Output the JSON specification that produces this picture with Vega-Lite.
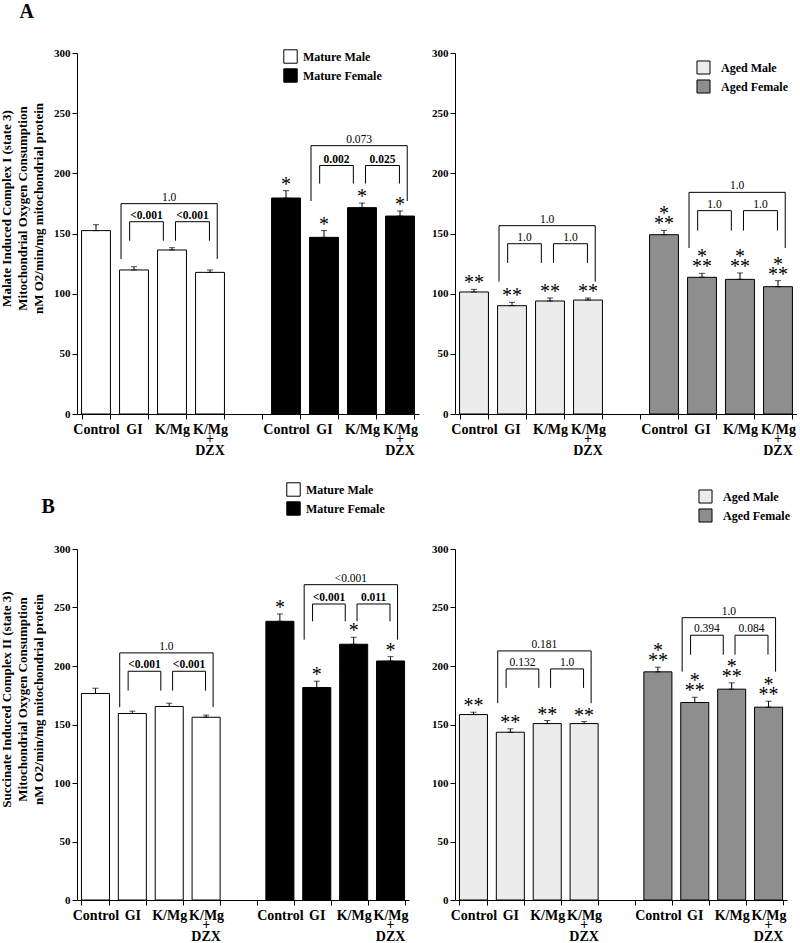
{
"$schema":"https://vega.github.io/schema/vega-lite/v6.json",
"background":"white",
"padding":{"left":0,"top":2,"right":0,"bottom":0},
"config":{"font":"Liberation Serif","view":{"stroke":null},"axis":{"domainColor":"black","tickColor":"black","labelColor":"black","titleColor":"black","grid":false},"legend":{"padding":0}},
"data":{"values":[
{"panel":"A1","kind":"bar","group":"Mature Male","slot":"M|Control","mean":152.4,"upper":157.3,"stars":""},
{"panel":"A1","kind":"bar","group":"Mature Male","slot":"M|GI","mean":119.7,"upper":122.4,"stars":""},
{"panel":"A1","kind":"bar","group":"Mature Male","slot":"M|K/Mg","mean":136.3,"upper":138.2,"stars":""},
{"panel":"A1","kind":"bar","group":"Mature Male","slot":"M|K/Mg+DZX","mean":117.7,"upper":119.7,"stars":""},
{"panel":"A1","kind":"bar","group":"Mature Female","slot":"F|Control","mean":179.5,"upper":185.6,"stars":"*"},
{"panel":"A1","kind":"bar","group":"Mature Female","slot":"F|GI","mean":146.8,"upper":152.4,"stars":"*"},
{"panel":"A1","kind":"bar","group":"Mature Female","slot":"F|K/Mg","mean":171.5,"upper":175.3,"stars":"*"},
{"panel":"A1","kind":"bar","group":"Mature Female","slot":"F|K/Mg+DZX","mean":164.5,"upper":168.7,"stars":"*"},
{"panel":"A2","kind":"bar","group":"Aged Male","slot":"M|Control","mean":101.4,"upper":103.6,"stars":"**"},
{"panel":"A2","kind":"bar","group":"Aged Male","slot":"M|GI","mean":90.0,"upper":92.8,"stars":"**"},
{"panel":"A2","kind":"bar","group":"Aged Male","slot":"M|K/Mg","mean":93.9,"upper":96.4,"stars":"**"},
{"panel":"A2","kind":"bar","group":"Aged Male","slot":"M|K/Mg+DZX","mean":94.7,"upper":96.4,"stars":"**"},
{"panel":"A2","kind":"bar","group":"Aged Female","slot":"F|Control","mean":149.0,"upper":152.6,"stars":"**","star2":"*"},
{"panel":"A2","kind":"bar","group":"Aged Female","slot":"F|GI","mean":113.6,"upper":116.9,"stars":"**","star2":"*"},
{"panel":"A2","kind":"bar","group":"Aged Female","slot":"F|K/Mg","mean":111.9,"upper":117.2,"stars":"**","star2":"*"},
{"panel":"A2","kind":"bar","group":"Aged Female","slot":"F|K/Mg+DZX","mean":105.8,"upper":110.8,"stars":"**","star2":"*"},
{"panel":"B1","kind":"bar","group":"Mature Male","slot":"M|Control","mean":176.5,"upper":181.0,"stars":""},
{"panel":"B1","kind":"bar","group":"Mature Male","slot":"M|GI","mean":159.4,"upper":161.4,"stars":""},
{"panel":"B1","kind":"bar","group":"Mature Male","slot":"M|K/Mg","mean":165.4,"upper":168.2,"stars":""},
{"panel":"B1","kind":"bar","group":"Mature Male","slot":"M|K/Mg+DZX","mean":156.2,"upper":158.0,"stars":""},
{"panel":"B1","kind":"bar","group":"Mature Female","slot":"F|Control","mean":238.2,"upper":244.5,"stars":"*"},
{"panel":"B1","kind":"bar","group":"Mature Female","slot":"F|GI","mean":181.6,"upper":187.0,"stars":"*"},
{"panel":"B1","kind":"bar","group":"Mature Female","slot":"F|K/Mg","mean":218.6,"upper":224.5,"stars":"*"},
{"panel":"B1","kind":"bar","group":"Mature Female","slot":"F|K/Mg+DZX","mean":204.3,"upper":208.0,"stars":"*"},
{"panel":"B2","kind":"bar","group":"Aged Male","slot":"M|Control","mean":158.5,"upper":160.5,"stars":"**"},
{"panel":"B2","kind":"bar","group":"Aged Male","slot":"M|GI","mean":143.4,"upper":146.3,"stars":"**"},
{"panel":"B2","kind":"bar","group":"Aged Male","slot":"M|K/Mg","mean":150.8,"upper":153.4,"stars":"**"},
{"panel":"B2","kind":"bar","group":"Aged Male","slot":"M|K/Mg+DZX","mean":150.8,"upper":152.5,"stars":"**"},
{"panel":"B2","kind":"bar","group":"Aged Female","slot":"F|Control","mean":195.0,"upper":199.0,"stars":"**","star2":"*"},
{"panel":"B2","kind":"bar","group":"Aged Female","slot":"F|GI","mean":168.8,"upper":173.3,"stars":"**","star2":"*"},
{"panel":"B2","kind":"bar","group":"Aged Female","slot":"F|K/Mg","mean":180.2,"upper":185.6,"stars":"**","star2":"*"},
{"panel":"B2","kind":"bar","group":"Aged Female","slot":"F|K/Mg+DZX","mean":164.8,"upper":169.9,"stars":"**","star2":"*"},
{"panel":"A1","kind":"outer","from":"M|GI","to":"M|K/Mg+DZX","top":174.8,"bot":128.8,"label":"1.0"},
{"panel":"A1","kind":"in1","from":"M|GI","to":"M|K/Mg","top":159.8,"bot":144.0,"label":"<0.001"},
{"panel":"A1","kind":"in2","from":"M|K/Mg","to":"M|K/Mg+DZX","top":159.8,"bot":144.0,"label":"<0.001"},
{"panel":"A1","kind":"outer","from":"F|GI","to":"F|K/Mg+DZX","top":223.0,"bot":177.0,"label":"0.073"},
{"panel":"A1","kind":"in1","from":"F|GI","to":"F|K/Mg","top":206.5,"bot":191.5,"label":"0.002"},
{"panel":"A1","kind":"in2","from":"F|K/Mg","to":"F|K/Mg+DZX","top":206.5,"bot":191.5,"label":"0.025"},
{"panel":"A2","kind":"outer","from":"M|GI","to":"M|K/Mg+DZX","top":156.5,"bot":110.0,"label":"1.0"},
{"panel":"A2","kind":"in1","from":"M|GI","to":"M|K/Mg","top":141.5,"bot":125.5,"label":"1.0"},
{"panel":"A2","kind":"in2","from":"M|K/Mg","to":"M|K/Mg+DZX","top":141.5,"bot":125.5,"label":"1.0"},
{"panel":"A2","kind":"outer","from":"F|GI","to":"F|K/Mg+DZX","top":184.2,"bot":138.0,"label":"1.0"},
{"panel":"A2","kind":"in1","from":"F|GI","to":"F|K/Mg","top":169.0,"bot":152.4,"label":"1.0"},
{"panel":"A2","kind":"in2","from":"F|K/Mg","to":"F|K/Mg+DZX","top":169.0,"bot":152.4,"label":"1.0"},
{"panel":"B1","kind":"outer","from":"M|GI","to":"M|K/Mg+DZX","top":211.2,"bot":164.8,"label":"1.0"},
{"panel":"B1","kind":"in1","from":"M|GI","to":"M|K/Mg","top":195.5,"bot":179.0,"label":"<0.001"},
{"panel":"B1","kind":"in2","from":"M|K/Mg","to":"M|K/Mg+DZX","top":195.5,"bot":179.0,"label":"<0.001"},
{"panel":"B1","kind":"outer","from":"F|GI","to":"F|K/Mg+DZX","top":269.5,"bot":222.5,"label":"<0.001"},
{"panel":"B1","kind":"in1","from":"F|GI","to":"F|K/Mg","top":253.0,"bot":238.2,"label":"<0.001"},
{"panel":"B1","kind":"in2","from":"F|K/Mg","to":"F|K/Mg+DZX","top":253.0,"bot":238.2,"label":"0.011"},
{"panel":"B2","kind":"outer","from":"M|GI","to":"M|K/Mg+DZX","top":212.9,"bot":168.2,"label":"0.181"},
{"panel":"B2","kind":"in1","from":"M|GI","to":"M|K/Mg","top":197.5,"bot":181.3,"label":"0.132"},
{"panel":"B2","kind":"in2","from":"M|K/Mg","to":"M|K/Mg+DZX","top":197.5,"bot":181.3,"label":"1.0"},
{"panel":"B2","kind":"outer","from":"F|GI","to":"F|K/Mg+DZX","top":241.3,"bot":195.2,"label":"1.0"},
{"panel":"B2","kind":"in1","from":"F|GI","to":"F|K/Mg","top":226.3,"bot":209.7,"label":"0.394"},
{"panel":"B2","kind":"in2","from":"F|K/Mg","to":"F|K/Mg+DZX","top":226.3,"bot":209.7,"label":"0.084"}
]},
"spacing":24,
"resolve":{"scale":{"fill":"independent","x":"independent","y":"independent"},"legend":{"fill":"independent"}},
"vconcat":[
{"title":{"text":"A","anchor":"start","fontSize":20,"fontWeight":"bold","font":"Liberation Serif","offset":25,"dx":19},
"spacing":12,
"resolve":{"scale":{"fill":"independent","x":"independent","y":"independent"},"legend":{"fill":"independent"}},
"hconcat":[
{"width":342,"height":361,"transform":[{"filter":"datum.panel=='A1'"}],
"resolve":{"axis":{"x":"independent","y":"independent"}},
"layer":[
{"transform":[{"filter":"datum.kind=='bar'"}],"mark":{"type":"bar","stroke":"black","strokeWidth":1},
"encoding":{"x":{"field":"slot","type":"nominal","scale":{"domain":["M|Control","M|GI","M|K/Mg","M|K/Mg+DZX","gap","F|Control","F|GI","F|K/Mg","F|K/Mg+DZX"],"paddingInner":0.24,"paddingOuter":0.12},"axis":{"title":null,"tickBand":"extent","labelAngle":0,"labelExpr":"isValid(datum.value) && datum.value != 'gap' ? substring(datum.value, 2, indexof(datum.value + '+', '+')) : ''","labelFontSize":14,"labelFontWeight":"bold","labelPadding":3,"tickSize":5,"labelOverlap":false}},
"y":{"field":"mean","type":"quantitative","scale":{"domain":[0,300]},"axis":{"values":[0,50,100,150,200,250,300],"tickSize":5,"labelFontSize":11,"labelFontWeight":"bold","labelPadding":2,"title":["Malate Induced  Complex I (state 3)","Mitochondrial Oxygen Consumption","nM O2/min/mg mitochondrial protein"],"titleFontSize":13,"titleFontWeight":"bold","titleLineHeight":16,"titlePadding":8,"titleY":155}},
"fill":{"field":"group","type":"nominal","scale":{"domain":["Mature Male","Mature Female"],"range":["white","black"]},"legend":{"orient":"none","legendX":206,"legendY":-4,"title":null,"direction":"vertical","symbolType":"square","symbolSize":180,"symbolStrokeColor":"black","symbolStrokeWidth":1,"labelFontSize":12,"labelFontWeight":"bold","labelOffset":5,"rowPadding":0}}}},
{"transform":[{"filter":"datum.kind=='bar'"}],"mark":{"type":"errorbar","ticks":true,"size":6,"thickness":1,"color":"black"},
"encoding":{"x":{"field":"slot","type":"nominal","scale":{"domain":["M|Control","M|GI","M|K/Mg","M|K/Mg+DZX","gap","F|Control","F|GI","F|K/Mg","F|K/Mg+DZX"]},"axis":null},"y":{"field":"upper","type":"quantitative","axis":null},"y2":{"field":"mean"}}},
{"transform":[{"filter":"datum.kind=='bar'"}],"mark":{"type":"text","baseline":"bottom","dy":4,"fontSize":20},
"encoding":{"x":{"field":"slot","type":"nominal","scale":{"domain":["M|Control","M|GI","M|K/Mg","M|K/Mg+DZX","gap","F|Control","F|GI","F|K/Mg","F|K/Mg+DZX"]},"axis":null},"y":{"field":"upper","type":"quantitative","axis":null},"text":{"field":"stars"}}},
{"transform":[{"filter":"datum.kind=='bar' && indexof(datum.slot,'DZX')>=0"}],"mark":{"type":"text","baseline":"top","dy":18,"fontSize":14,"fontWeight":"bold","lineHeight":12,"lineBreak":"\n","text":"+\nDZX"},
"encoding":{"x":{"field":"slot","type":"nominal","scale":{"domain":["M|Control","M|GI","M|K/Mg","M|K/Mg+DZX","gap","F|Control","F|GI","F|K/Mg","F|K/Mg+DZX"]},"axis":null},"y":{"datum":0,"type":"quantitative","axis":null}}},
{"transform":[{"filter":"datum.kind=='outer'"}],"mark":{"type":"rule","color":"black","strokeWidth":1},
"encoding":{"x":{"field":"from","type":"nominal","bandPosition":0.05,"scale":{"domain":["M|Control","M|GI","M|K/Mg","M|K/Mg+DZX","gap","F|Control","F|GI","F|K/Mg","F|K/Mg+DZX"]},"axis":null},"x2":{"field":"to","bandPosition":0.75},"y":{"field":"top","type":"quantitative","axis":null}}},
{"transform":[{"filter":"datum.kind=='outer'"}],"mark":{"type":"rule","color":"black","strokeWidth":1},
"encoding":{"x":{"field":"from","type":"nominal","bandPosition":0.05,"scale":{"domain":["M|Control","M|GI","M|K/Mg","M|K/Mg+DZX","gap","F|Control","F|GI","F|K/Mg","F|K/Mg+DZX"]},"axis":null},"y":{"field":"top","type":"quantitative","axis":null},"y2":{"field":"bot"}}},
{"transform":[{"filter":"datum.kind=='outer'"}],"mark":{"type":"rule","color":"black","strokeWidth":1},
"encoding":{"x":{"field":"to","type":"nominal","bandPosition":0.75,"scale":{"domain":["M|Control","M|GI","M|K/Mg","M|K/Mg+DZX","gap","F|Control","F|GI","F|K/Mg","F|K/Mg+DZX"]},"axis":null},"y":{"field":"top","type":"quantitative","axis":null},"y2":{"field":"bot"}}},
{"transform":[{"filter":"datum.kind=='outer'"}],"mark":{"type":"text","baseline":"bottom","dy":-1,"fontSize":11.5},
"encoding":{"x":{"field":"from","type":"nominal","bandPosition":1.716,"scale":{"domain":["M|Control","M|GI","M|K/Mg","M|K/Mg+DZX","gap","F|Control","F|GI","F|K/Mg","F|K/Mg+DZX"]},"axis":null},"y":{"field":"top","type":"quantitative","axis":null},"text":{"field":"label"}}},
{"transform":[{"filter":"datum.kind=='in1'"}],"mark":{"type":"rule","color":"black","strokeWidth":1},
"encoding":{"x":{"field":"from","type":"nominal","bandPosition":0.35,"scale":{"domain":["M|Control","M|GI","M|K/Mg","M|K/Mg+DZX","gap","F|Control","F|GI","F|K/Mg","F|K/Mg+DZX"]},"axis":null},"x2":{"field":"to","bandPosition":0.2},"y":{"field":"top","type":"quantitative","axis":null}}},
{"transform":[{"filter":"datum.kind=='in1'"}],"mark":{"type":"rule","color":"black","strokeWidth":1},
"encoding":{"x":{"field":"from","type":"nominal","bandPosition":0.35,"scale":{"domain":["M|Control","M|GI","M|K/Mg","M|K/Mg+DZX","gap","F|Control","F|GI","F|K/Mg","F|K/Mg+DZX"]},"axis":null},"y":{"field":"top","type":"quantitative","axis":null},"y2":{"field":"bot"}}},
{"transform":[{"filter":"datum.kind=='in1'"}],"mark":{"type":"rule","color":"black","strokeWidth":1},
"encoding":{"x":{"field":"to","type":"nominal","bandPosition":0.2,"scale":{"domain":["M|Control","M|GI","M|K/Mg","M|K/Mg+DZX","gap","F|Control","F|GI","F|K/Mg","F|K/Mg+DZX"]},"axis":null},"y":{"field":"top","type":"quantitative","axis":null},"y2":{"field":"bot"}}},
{"transform":[{"filter":"datum.kind=='in1'"}],"mark":{"type":"text","baseline":"bottom","dy":-1,"fontSize":11.5,"fontWeight":"bold"},
"encoding":{"x":{"field":"from","type":"nominal","bandPosition":0.933,"scale":{"domain":["M|Control","M|GI","M|K/Mg","M|K/Mg+DZX","gap","F|Control","F|GI","F|K/Mg","F|K/Mg+DZX"]},"axis":null},"y":{"field":"top","type":"quantitative","axis":null},"text":{"field":"label"}}},
{"transform":[{"filter":"datum.kind=='in2'"}],"mark":{"type":"rule","color":"black","strokeWidth":1},
"encoding":{"x":{"field":"from","type":"nominal","bandPosition":0.62,"scale":{"domain":["M|Control","M|GI","M|K/Mg","M|K/Mg+DZX","gap","F|Control","F|GI","F|K/Mg","F|K/Mg+DZX"]},"axis":null},"x2":{"field":"to","bandPosition":0.48},"y":{"field":"top","type":"quantitative","axis":null}}},
{"transform":[{"filter":"datum.kind=='in2'"}],"mark":{"type":"rule","color":"black","strokeWidth":1},
"encoding":{"x":{"field":"from","type":"nominal","bandPosition":0.62,"scale":{"domain":["M|Control","M|GI","M|K/Mg","M|K/Mg+DZX","gap","F|Control","F|GI","F|K/Mg","F|K/Mg+DZX"]},"axis":null},"y":{"field":"top","type":"quantitative","axis":null},"y2":{"field":"bot"}}},
{"transform":[{"filter":"datum.kind=='in2'"}],"mark":{"type":"rule","color":"black","strokeWidth":1},
"encoding":{"x":{"field":"to","type":"nominal","bandPosition":0.48,"scale":{"domain":["M|Control","M|GI","M|K/Mg","M|K/Mg+DZX","gap","F|Control","F|GI","F|K/Mg","F|K/Mg+DZX"]},"axis":null},"y":{"field":"top","type":"quantitative","axis":null},"y2":{"field":"bot"}}},
{"transform":[{"filter":"datum.kind=='in2'"}],"mark":{"type":"text","baseline":"bottom","dy":-1,"fontSize":11.5,"fontWeight":"bold"},
"encoding":{"x":{"field":"from","type":"nominal","bandPosition":1.208,"scale":{"domain":["M|Control","M|GI","M|K/Mg","M|K/Mg+DZX","gap","F|Control","F|GI","F|K/Mg","F|K/Mg+DZX"]},"axis":null},"y":{"field":"top","type":"quantitative","axis":null},"text":{"field":"label"}}}
]},
{"width":342,"height":361,"transform":[{"filter":"datum.panel=='A2'"}],
"resolve":{"axis":{"x":"independent","y":"independent"}},
"layer":[
{"transform":[{"filter":"datum.kind=='bar'"}],"mark":{"type":"bar","stroke":"black","strokeWidth":1},
"encoding":{"x":{"field":"slot","type":"nominal","scale":{"domain":["M|Control","M|GI","M|K/Mg","M|K/Mg+DZX","gap","F|Control","F|GI","F|K/Mg","F|K/Mg+DZX"],"paddingInner":0.24,"paddingOuter":0.12},"axis":{"title":null,"tickBand":"extent","labelAngle":0,"labelExpr":"isValid(datum.value) && datum.value != 'gap' ? substring(datum.value, 2, indexof(datum.value + '+', '+')) : ''","labelFontSize":14,"labelFontWeight":"bold","labelPadding":3,"tickSize":5,"labelOverlap":false}},
"y":{"field":"mean","type":"quantitative","scale":{"domain":[0,300]},"axis":{"values":[0,50,100,150,200,250,300],"tickSize":5,"labelFontSize":11,"labelFontWeight":"bold","labelPadding":2,"title":null}},
"fill":{"field":"group","type":"nominal","scale":{"domain":["Aged Male","Aged Female"],"range":["#ececec","#8e8e8e"]},"legend":{"orient":"none","legendX":241,"legendY":7,"title":null,"direction":"vertical","symbolType":"square","symbolSize":170,"symbolStrokeColor":"black","symbolStrokeWidth":1,"labelFontSize":12,"labelFontWeight":"bold","labelOffset":10,"rowPadding":0}}}},
{"transform":[{"filter":"datum.kind=='bar'"}],"mark":{"type":"errorbar","ticks":true,"size":6,"thickness":1,"color":"black"},
"encoding":{"x":{"field":"slot","type":"nominal","scale":{"domain":["M|Control","M|GI","M|K/Mg","M|K/Mg+DZX","gap","F|Control","F|GI","F|K/Mg","F|K/Mg+DZX"]},"axis":null},"y":{"field":"upper","type":"quantitative","axis":null},"y2":{"field":"mean"}}},
{"transform":[{"filter":"datum.kind=='bar'"}],"mark":{"type":"text","baseline":"bottom","dy":4,"fontSize":20},
"encoding":{"x":{"field":"slot","type":"nominal","scale":{"domain":["M|Control","M|GI","M|K/Mg","M|K/Mg+DZX","gap","F|Control","F|GI","F|K/Mg","F|K/Mg+DZX"]},"axis":null},"y":{"field":"upper","type":"quantitative","axis":null},"text":{"field":"stars"}}},
{"transform":[{"filter":"datum.kind=='bar' && isValid(datum.star2)"}],"mark":{"type":"text","baseline":"bottom","dy":-6,"fontSize":20},
"encoding":{"x":{"field":"slot","type":"nominal","scale":{"domain":["M|Control","M|GI","M|K/Mg","M|K/Mg+DZX","gap","F|Control","F|GI","F|K/Mg","F|K/Mg+DZX"]},"axis":null},"y":{"field":"upper","type":"quantitative","axis":null},"text":{"field":"star2"}}},
{"transform":[{"filter":"datum.kind=='bar' && indexof(datum.slot,'DZX')>=0"}],"mark":{"type":"text","baseline":"top","dy":18,"fontSize":14,"fontWeight":"bold","lineHeight":12,"lineBreak":"\n","text":"+\nDZX"},
"encoding":{"x":{"field":"slot","type":"nominal","scale":{"domain":["M|Control","M|GI","M|K/Mg","M|K/Mg+DZX","gap","F|Control","F|GI","F|K/Mg","F|K/Mg+DZX"]},"axis":null},"y":{"datum":0,"type":"quantitative","axis":null}}},
{"transform":[{"filter":"datum.kind=='outer'"}],"mark":{"type":"rule","color":"black","strokeWidth":1},
"encoding":{"x":{"field":"from","type":"nominal","bandPosition":0.05,"scale":{"domain":["M|Control","M|GI","M|K/Mg","M|K/Mg+DZX","gap","F|Control","F|GI","F|K/Mg","F|K/Mg+DZX"]},"axis":null},"x2":{"field":"to","bandPosition":0.75},"y":{"field":"top","type":"quantitative","axis":null}}},
{"transform":[{"filter":"datum.kind=='outer'"}],"mark":{"type":"rule","color":"black","strokeWidth":1},
"encoding":{"x":{"field":"from","type":"nominal","bandPosition":0.05,"scale":{"domain":["M|Control","M|GI","M|K/Mg","M|K/Mg+DZX","gap","F|Control","F|GI","F|K/Mg","F|K/Mg+DZX"]},"axis":null},"y":{"field":"top","type":"quantitative","axis":null},"y2":{"field":"bot"}}},
{"transform":[{"filter":"datum.kind=='outer'"}],"mark":{"type":"rule","color":"black","strokeWidth":1},
"encoding":{"x":{"field":"to","type":"nominal","bandPosition":0.75,"scale":{"domain":["M|Control","M|GI","M|K/Mg","M|K/Mg+DZX","gap","F|Control","F|GI","F|K/Mg","F|K/Mg+DZX"]},"axis":null},"y":{"field":"top","type":"quantitative","axis":null},"y2":{"field":"bot"}}},
{"transform":[{"filter":"datum.kind=='outer'"}],"mark":{"type":"text","baseline":"bottom","dy":-1,"fontSize":11.5},
"encoding":{"x":{"field":"from","type":"nominal","bandPosition":1.716,"scale":{"domain":["M|Control","M|GI","M|K/Mg","M|K/Mg+DZX","gap","F|Control","F|GI","F|K/Mg","F|K/Mg+DZX"]},"axis":null},"y":{"field":"top","type":"quantitative","axis":null},"text":{"field":"label"}}},
{"transform":[{"filter":"datum.kind=='in1'"}],"mark":{"type":"rule","color":"black","strokeWidth":1},
"encoding":{"x":{"field":"from","type":"nominal","bandPosition":0.35,"scale":{"domain":["M|Control","M|GI","M|K/Mg","M|K/Mg+DZX","gap","F|Control","F|GI","F|K/Mg","F|K/Mg+DZX"]},"axis":null},"x2":{"field":"to","bandPosition":0.2},"y":{"field":"top","type":"quantitative","axis":null}}},
{"transform":[{"filter":"datum.kind=='in1'"}],"mark":{"type":"rule","color":"black","strokeWidth":1},
"encoding":{"x":{"field":"from","type":"nominal","bandPosition":0.35,"scale":{"domain":["M|Control","M|GI","M|K/Mg","M|K/Mg+DZX","gap","F|Control","F|GI","F|K/Mg","F|K/Mg+DZX"]},"axis":null},"y":{"field":"top","type":"quantitative","axis":null},"y2":{"field":"bot"}}},
{"transform":[{"filter":"datum.kind=='in1'"}],"mark":{"type":"rule","color":"black","strokeWidth":1},
"encoding":{"x":{"field":"to","type":"nominal","bandPosition":0.2,"scale":{"domain":["M|Control","M|GI","M|K/Mg","M|K/Mg+DZX","gap","F|Control","F|GI","F|K/Mg","F|K/Mg+DZX"]},"axis":null},"y":{"field":"top","type":"quantitative","axis":null},"y2":{"field":"bot"}}},
{"transform":[{"filter":"datum.kind=='in1'"}],"mark":{"type":"text","baseline":"bottom","dy":-1,"fontSize":11.5},
"encoding":{"x":{"field":"from","type":"nominal","bandPosition":0.933,"scale":{"domain":["M|Control","M|GI","M|K/Mg","M|K/Mg+DZX","gap","F|Control","F|GI","F|K/Mg","F|K/Mg+DZX"]},"axis":null},"y":{"field":"top","type":"quantitative","axis":null},"text":{"field":"label"}}},
{"transform":[{"filter":"datum.kind=='in2'"}],"mark":{"type":"rule","color":"black","strokeWidth":1},
"encoding":{"x":{"field":"from","type":"nominal","bandPosition":0.62,"scale":{"domain":["M|Control","M|GI","M|K/Mg","M|K/Mg+DZX","gap","F|Control","F|GI","F|K/Mg","F|K/Mg+DZX"]},"axis":null},"x2":{"field":"to","bandPosition":0.48},"y":{"field":"top","type":"quantitative","axis":null}}},
{"transform":[{"filter":"datum.kind=='in2'"}],"mark":{"type":"rule","color":"black","strokeWidth":1},
"encoding":{"x":{"field":"from","type":"nominal","bandPosition":0.62,"scale":{"domain":["M|Control","M|GI","M|K/Mg","M|K/Mg+DZX","gap","F|Control","F|GI","F|K/Mg","F|K/Mg+DZX"]},"axis":null},"y":{"field":"top","type":"quantitative","axis":null},"y2":{"field":"bot"}}},
{"transform":[{"filter":"datum.kind=='in2'"}],"mark":{"type":"rule","color":"black","strokeWidth":1},
"encoding":{"x":{"field":"to","type":"nominal","bandPosition":0.48,"scale":{"domain":["M|Control","M|GI","M|K/Mg","M|K/Mg+DZX","gap","F|Control","F|GI","F|K/Mg","F|K/Mg+DZX"]},"axis":null},"y":{"field":"top","type":"quantitative","axis":null},"y2":{"field":"bot"}}},
{"transform":[{"filter":"datum.kind=='in2'"}],"mark":{"type":"text","baseline":"bottom","dy":-1,"fontSize":11.5},
"encoding":{"x":{"field":"from","type":"nominal","bandPosition":1.208,"scale":{"domain":["M|Control","M|GI","M|K/Mg","M|K/Mg+DZX","gap","F|Control","F|GI","F|K/Mg","F|K/Mg+DZX"]},"axis":null},"y":{"field":"top","type":"quantitative","axis":null},"text":{"field":"label"}}}
]}
]},
{"title":{"text":"B","anchor":"start","fontSize":20,"fontWeight":"bold","font":"Liberation Serif","offset":-35,"dx":41},
"spacing":22,
"resolve":{"scale":{"fill":"independent","x":"independent","y":"independent"},"legend":{"fill":"independent"}},
"hconcat":[
{"width":332,"height":351,"transform":[{"filter":"datum.panel=='B1'"}],
"resolve":{"axis":{"x":"independent","y":"independent"}},
"layer":[
{"transform":[{"filter":"datum.kind=='bar'"}],"mark":{"type":"bar","stroke":"black","strokeWidth":1},
"encoding":{"x":{"field":"slot","type":"nominal","scale":{"domain":["M|Control","M|GI","M|K/Mg","M|K/Mg+DZX","gap","F|Control","F|GI","F|K/Mg","F|K/Mg+DZX"],"paddingInner":0.24,"paddingOuter":0.12},"axis":{"title":null,"tickBand":"extent","labelAngle":0,"labelExpr":"isValid(datum.value) && datum.value != 'gap' ? substring(datum.value, 2, indexof(datum.value + '+', '+')) : ''","labelFontSize":14,"labelFontWeight":"bold","labelPadding":3,"tickSize":5,"labelOverlap":false}},
"y":{"field":"mean","type":"quantitative","scale":{"domain":[0,300]},"axis":{"values":[0,50,100,150,200,250,300],"tickSize":5,"labelFontSize":11,"labelFontWeight":"bold","labelPadding":2,"title":["Succinate Induced  Complex II (state 3)","Mitochondrial Oxygen Consumption","nM O2/min/mg mitochondrial protein"],"titleFontSize":13,"titleFontWeight":"bold","titleLineHeight":16,"titlePadding":8,"titleY":150}},
"fill":{"field":"group","type":"nominal","scale":{"domain":["Mature Male","Mature Female"],"range":["white","black"]},"legend":{"orient":"none","legendX":209,"legendY":-67,"title":null,"direction":"vertical","symbolType":"square","symbolSize":180,"symbolStrokeColor":"black","symbolStrokeWidth":1,"labelFontSize":12,"labelFontWeight":"bold","labelOffset":5,"rowPadding":0}}}},
{"transform":[{"filter":"datum.kind=='bar'"}],"mark":{"type":"errorbar","ticks":true,"size":6,"thickness":1,"color":"black"},
"encoding":{"x":{"field":"slot","type":"nominal","scale":{"domain":["M|Control","M|GI","M|K/Mg","M|K/Mg+DZX","gap","F|Control","F|GI","F|K/Mg","F|K/Mg+DZX"]},"axis":null},"y":{"field":"upper","type":"quantitative","axis":null},"y2":{"field":"mean"}}},
{"transform":[{"filter":"datum.kind=='bar'"}],"mark":{"type":"text","baseline":"bottom","dy":4,"fontSize":20},
"encoding":{"x":{"field":"slot","type":"nominal","scale":{"domain":["M|Control","M|GI","M|K/Mg","M|K/Mg+DZX","gap","F|Control","F|GI","F|K/Mg","F|K/Mg+DZX"]},"axis":null},"y":{"field":"upper","type":"quantitative","axis":null},"text":{"field":"stars"}}},
{"transform":[{"filter":"datum.kind=='bar' && indexof(datum.slot,'DZX')>=0"}],"mark":{"type":"text","baseline":"top","dy":18,"fontSize":14,"fontWeight":"bold","lineHeight":12,"lineBreak":"\n","text":"+\nDZX"},
"encoding":{"x":{"field":"slot","type":"nominal","scale":{"domain":["M|Control","M|GI","M|K/Mg","M|K/Mg+DZX","gap","F|Control","F|GI","F|K/Mg","F|K/Mg+DZX"]},"axis":null},"y":{"datum":0,"type":"quantitative","axis":null}}},
{"transform":[{"filter":"datum.kind=='outer'"}],"mark":{"type":"rule","color":"black","strokeWidth":1},
"encoding":{"x":{"field":"from","type":"nominal","bandPosition":0.05,"scale":{"domain":["M|Control","M|GI","M|K/Mg","M|K/Mg+DZX","gap","F|Control","F|GI","F|K/Mg","F|K/Mg+DZX"]},"axis":null},"x2":{"field":"to","bandPosition":0.75},"y":{"field":"top","type":"quantitative","axis":null}}},
{"transform":[{"filter":"datum.kind=='outer'"}],"mark":{"type":"rule","color":"black","strokeWidth":1},
"encoding":{"x":{"field":"from","type":"nominal","bandPosition":0.05,"scale":{"domain":["M|Control","M|GI","M|K/Mg","M|K/Mg+DZX","gap","F|Control","F|GI","F|K/Mg","F|K/Mg+DZX"]},"axis":null},"y":{"field":"top","type":"quantitative","axis":null},"y2":{"field":"bot"}}},
{"transform":[{"filter":"datum.kind=='outer'"}],"mark":{"type":"rule","color":"black","strokeWidth":1},
"encoding":{"x":{"field":"to","type":"nominal","bandPosition":0.75,"scale":{"domain":["M|Control","M|GI","M|K/Mg","M|K/Mg+DZX","gap","F|Control","F|GI","F|K/Mg","F|K/Mg+DZX"]},"axis":null},"y":{"field":"top","type":"quantitative","axis":null},"y2":{"field":"bot"}}},
{"transform":[{"filter":"datum.kind=='outer'"}],"mark":{"type":"text","baseline":"bottom","dy":-1,"fontSize":11.5},
"encoding":{"x":{"field":"from","type":"nominal","bandPosition":1.716,"scale":{"domain":["M|Control","M|GI","M|K/Mg","M|K/Mg+DZX","gap","F|Control","F|GI","F|K/Mg","F|K/Mg+DZX"]},"axis":null},"y":{"field":"top","type":"quantitative","axis":null},"text":{"field":"label"}}},
{"transform":[{"filter":"datum.kind=='in1'"}],"mark":{"type":"rule","color":"black","strokeWidth":1},
"encoding":{"x":{"field":"from","type":"nominal","bandPosition":0.35,"scale":{"domain":["M|Control","M|GI","M|K/Mg","M|K/Mg+DZX","gap","F|Control","F|GI","F|K/Mg","F|K/Mg+DZX"]},"axis":null},"x2":{"field":"to","bandPosition":0.2},"y":{"field":"top","type":"quantitative","axis":null}}},
{"transform":[{"filter":"datum.kind=='in1'"}],"mark":{"type":"rule","color":"black","strokeWidth":1},
"encoding":{"x":{"field":"from","type":"nominal","bandPosition":0.35,"scale":{"domain":["M|Control","M|GI","M|K/Mg","M|K/Mg+DZX","gap","F|Control","F|GI","F|K/Mg","F|K/Mg+DZX"]},"axis":null},"y":{"field":"top","type":"quantitative","axis":null},"y2":{"field":"bot"}}},
{"transform":[{"filter":"datum.kind=='in1'"}],"mark":{"type":"rule","color":"black","strokeWidth":1},
"encoding":{"x":{"field":"to","type":"nominal","bandPosition":0.2,"scale":{"domain":["M|Control","M|GI","M|K/Mg","M|K/Mg+DZX","gap","F|Control","F|GI","F|K/Mg","F|K/Mg+DZX"]},"axis":null},"y":{"field":"top","type":"quantitative","axis":null},"y2":{"field":"bot"}}},
{"transform":[{"filter":"datum.kind=='in1'"}],"mark":{"type":"text","baseline":"bottom","dy":-1,"fontSize":11.5,"fontWeight":"bold"},
"encoding":{"x":{"field":"from","type":"nominal","bandPosition":0.933,"scale":{"domain":["M|Control","M|GI","M|K/Mg","M|K/Mg+DZX","gap","F|Control","F|GI","F|K/Mg","F|K/Mg+DZX"]},"axis":null},"y":{"field":"top","type":"quantitative","axis":null},"text":{"field":"label"}}},
{"transform":[{"filter":"datum.kind=='in2'"}],"mark":{"type":"rule","color":"black","strokeWidth":1},
"encoding":{"x":{"field":"from","type":"nominal","bandPosition":0.62,"scale":{"domain":["M|Control","M|GI","M|K/Mg","M|K/Mg+DZX","gap","F|Control","F|GI","F|K/Mg","F|K/Mg+DZX"]},"axis":null},"x2":{"field":"to","bandPosition":0.48},"y":{"field":"top","type":"quantitative","axis":null}}},
{"transform":[{"filter":"datum.kind=='in2'"}],"mark":{"type":"rule","color":"black","strokeWidth":1},
"encoding":{"x":{"field":"from","type":"nominal","bandPosition":0.62,"scale":{"domain":["M|Control","M|GI","M|K/Mg","M|K/Mg+DZX","gap","F|Control","F|GI","F|K/Mg","F|K/Mg+DZX"]},"axis":null},"y":{"field":"top","type":"quantitative","axis":null},"y2":{"field":"bot"}}},
{"transform":[{"filter":"datum.kind=='in2'"}],"mark":{"type":"rule","color":"black","strokeWidth":1},
"encoding":{"x":{"field":"to","type":"nominal","bandPosition":0.48,"scale":{"domain":["M|Control","M|GI","M|K/Mg","M|K/Mg+DZX","gap","F|Control","F|GI","F|K/Mg","F|K/Mg+DZX"]},"axis":null},"y":{"field":"top","type":"quantitative","axis":null},"y2":{"field":"bot"}}},
{"transform":[{"filter":"datum.kind=='in2'"}],"mark":{"type":"text","baseline":"bottom","dy":-1,"fontSize":11.5,"fontWeight":"bold"},
"encoding":{"x":{"field":"from","type":"nominal","bandPosition":1.208,"scale":{"domain":["M|Control","M|GI","M|K/Mg","M|K/Mg+DZX","gap","F|Control","F|GI","F|K/Mg","F|K/Mg+DZX"]},"axis":null},"y":{"field":"top","type":"quantitative","axis":null},"text":{"field":"label"}}}
]},
{"width":332,"height":351,"transform":[{"filter":"datum.panel=='B2'"}],
"resolve":{"axis":{"x":"independent","y":"independent"}},
"layer":[
{"transform":[{"filter":"datum.kind=='bar'"}],"mark":{"type":"bar","stroke":"black","strokeWidth":1},
"encoding":{"x":{"field":"slot","type":"nominal","scale":{"domain":["M|Control","M|GI","M|K/Mg","M|K/Mg+DZX","gap","F|Control","F|GI","F|K/Mg","F|K/Mg+DZX"],"paddingInner":0.24,"paddingOuter":0.12},"axis":{"title":null,"tickBand":"extent","labelAngle":0,"labelExpr":"isValid(datum.value) && datum.value != 'gap' ? substring(datum.value, 2, indexof(datum.value + '+', '+')) : ''","labelFontSize":14,"labelFontWeight":"bold","labelPadding":3,"tickSize":5,"labelOverlap":false}},
"y":{"field":"mean","type":"quantitative","scale":{"domain":[0,300]},"axis":{"values":[0,50,100,150,200,250,300],"tickSize":5,"labelFontSize":11,"labelFontWeight":"bold","labelPadding":2,"title":null}},
"fill":{"field":"group","type":"nominal","scale":{"domain":["Aged Male","Aged Female"],"range":["#ececec","#8e8e8e"]},"legend":{"orient":"none","legendX":243,"legendY":-60,"title":null,"direction":"vertical","symbolType":"square","symbolSize":170,"symbolStrokeColor":"black","symbolStrokeWidth":1,"labelFontSize":12,"labelFontWeight":"bold","labelOffset":10,"rowPadding":0}}}},
{"transform":[{"filter":"datum.kind=='bar'"}],"mark":{"type":"errorbar","ticks":true,"size":6,"thickness":1,"color":"black"},
"encoding":{"x":{"field":"slot","type":"nominal","scale":{"domain":["M|Control","M|GI","M|K/Mg","M|K/Mg+DZX","gap","F|Control","F|GI","F|K/Mg","F|K/Mg+DZX"]},"axis":null},"y":{"field":"upper","type":"quantitative","axis":null},"y2":{"field":"mean"}}},
{"transform":[{"filter":"datum.kind=='bar'"}],"mark":{"type":"text","baseline":"bottom","dy":4,"fontSize":20},
"encoding":{"x":{"field":"slot","type":"nominal","scale":{"domain":["M|Control","M|GI","M|K/Mg","M|K/Mg+DZX","gap","F|Control","F|GI","F|K/Mg","F|K/Mg+DZX"]},"axis":null},"y":{"field":"upper","type":"quantitative","axis":null},"text":{"field":"stars"}}},
{"transform":[{"filter":"datum.kind=='bar' && isValid(datum.star2)"}],"mark":{"type":"text","baseline":"bottom","dy":-6,"fontSize":20},
"encoding":{"x":{"field":"slot","type":"nominal","scale":{"domain":["M|Control","M|GI","M|K/Mg","M|K/Mg+DZX","gap","F|Control","F|GI","F|K/Mg","F|K/Mg+DZX"]},"axis":null},"y":{"field":"upper","type":"quantitative","axis":null},"text":{"field":"star2"}}},
{"transform":[{"filter":"datum.kind=='bar' && indexof(datum.slot,'DZX')>=0"}],"mark":{"type":"text","baseline":"top","dy":18,"fontSize":14,"fontWeight":"bold","lineHeight":12,"lineBreak":"\n","text":"+\nDZX"},
"encoding":{"x":{"field":"slot","type":"nominal","scale":{"domain":["M|Control","M|GI","M|K/Mg","M|K/Mg+DZX","gap","F|Control","F|GI","F|K/Mg","F|K/Mg+DZX"]},"axis":null},"y":{"datum":0,"type":"quantitative","axis":null}}},
{"transform":[{"filter":"datum.kind=='outer'"}],"mark":{"type":"rule","color":"black","strokeWidth":1},
"encoding":{"x":{"field":"from","type":"nominal","bandPosition":0.05,"scale":{"domain":["M|Control","M|GI","M|K/Mg","M|K/Mg+DZX","gap","F|Control","F|GI","F|K/Mg","F|K/Mg+DZX"]},"axis":null},"x2":{"field":"to","bandPosition":0.75},"y":{"field":"top","type":"quantitative","axis":null}}},
{"transform":[{"filter":"datum.kind=='outer'"}],"mark":{"type":"rule","color":"black","strokeWidth":1},
"encoding":{"x":{"field":"from","type":"nominal","bandPosition":0.05,"scale":{"domain":["M|Control","M|GI","M|K/Mg","M|K/Mg+DZX","gap","F|Control","F|GI","F|K/Mg","F|K/Mg+DZX"]},"axis":null},"y":{"field":"top","type":"quantitative","axis":null},"y2":{"field":"bot"}}},
{"transform":[{"filter":"datum.kind=='outer'"}],"mark":{"type":"rule","color":"black","strokeWidth":1},
"encoding":{"x":{"field":"to","type":"nominal","bandPosition":0.75,"scale":{"domain":["M|Control","M|GI","M|K/Mg","M|K/Mg+DZX","gap","F|Control","F|GI","F|K/Mg","F|K/Mg+DZX"]},"axis":null},"y":{"field":"top","type":"quantitative","axis":null},"y2":{"field":"bot"}}},
{"transform":[{"filter":"datum.kind=='outer'"}],"mark":{"type":"text","baseline":"bottom","dy":-1,"fontSize":11.5},
"encoding":{"x":{"field":"from","type":"nominal","bandPosition":1.716,"scale":{"domain":["M|Control","M|GI","M|K/Mg","M|K/Mg+DZX","gap","F|Control","F|GI","F|K/Mg","F|K/Mg+DZX"]},"axis":null},"y":{"field":"top","type":"quantitative","axis":null},"text":{"field":"label"}}},
{"transform":[{"filter":"datum.kind=='in1'"}],"mark":{"type":"rule","color":"black","strokeWidth":1},
"encoding":{"x":{"field":"from","type":"nominal","bandPosition":0.35,"scale":{"domain":["M|Control","M|GI","M|K/Mg","M|K/Mg+DZX","gap","F|Control","F|GI","F|K/Mg","F|K/Mg+DZX"]},"axis":null},"x2":{"field":"to","bandPosition":0.2},"y":{"field":"top","type":"quantitative","axis":null}}},
{"transform":[{"filter":"datum.kind=='in1'"}],"mark":{"type":"rule","color":"black","strokeWidth":1},
"encoding":{"x":{"field":"from","type":"nominal","bandPosition":0.35,"scale":{"domain":["M|Control","M|GI","M|K/Mg","M|K/Mg+DZX","gap","F|Control","F|GI","F|K/Mg","F|K/Mg+DZX"]},"axis":null},"y":{"field":"top","type":"quantitative","axis":null},"y2":{"field":"bot"}}},
{"transform":[{"filter":"datum.kind=='in1'"}],"mark":{"type":"rule","color":"black","strokeWidth":1},
"encoding":{"x":{"field":"to","type":"nominal","bandPosition":0.2,"scale":{"domain":["M|Control","M|GI","M|K/Mg","M|K/Mg+DZX","gap","F|Control","F|GI","F|K/Mg","F|K/Mg+DZX"]},"axis":null},"y":{"field":"top","type":"quantitative","axis":null},"y2":{"field":"bot"}}},
{"transform":[{"filter":"datum.kind=='in1'"}],"mark":{"type":"text","baseline":"bottom","dy":-1,"fontSize":11.5},
"encoding":{"x":{"field":"from","type":"nominal","bandPosition":0.933,"scale":{"domain":["M|Control","M|GI","M|K/Mg","M|K/Mg+DZX","gap","F|Control","F|GI","F|K/Mg","F|K/Mg+DZX"]},"axis":null},"y":{"field":"top","type":"quantitative","axis":null},"text":{"field":"label"}}},
{"transform":[{"filter":"datum.kind=='in2'"}],"mark":{"type":"rule","color":"black","strokeWidth":1},
"encoding":{"x":{"field":"from","type":"nominal","bandPosition":0.62,"scale":{"domain":["M|Control","M|GI","M|K/Mg","M|K/Mg+DZX","gap","F|Control","F|GI","F|K/Mg","F|K/Mg+DZX"]},"axis":null},"x2":{"field":"to","bandPosition":0.48},"y":{"field":"top","type":"quantitative","axis":null}}},
{"transform":[{"filter":"datum.kind=='in2'"}],"mark":{"type":"rule","color":"black","strokeWidth":1},
"encoding":{"x":{"field":"from","type":"nominal","bandPosition":0.62,"scale":{"domain":["M|Control","M|GI","M|K/Mg","M|K/Mg+DZX","gap","F|Control","F|GI","F|K/Mg","F|K/Mg+DZX"]},"axis":null},"y":{"field":"top","type":"quantitative","axis":null},"y2":{"field":"bot"}}},
{"transform":[{"filter":"datum.kind=='in2'"}],"mark":{"type":"rule","color":"black","strokeWidth":1},
"encoding":{"x":{"field":"to","type":"nominal","bandPosition":0.48,"scale":{"domain":["M|Control","M|GI","M|K/Mg","M|K/Mg+DZX","gap","F|Control","F|GI","F|K/Mg","F|K/Mg+DZX"]},"axis":null},"y":{"field":"top","type":"quantitative","axis":null},"y2":{"field":"bot"}}},
{"transform":[{"filter":"datum.kind=='in2'"}],"mark":{"type":"text","baseline":"bottom","dy":-1,"fontSize":11.5},
"encoding":{"x":{"field":"from","type":"nominal","bandPosition":1.208,"scale":{"domain":["M|Control","M|GI","M|K/Mg","M|K/Mg+DZX","gap","F|Control","F|GI","F|K/Mg","F|K/Mg+DZX"]},"axis":null},"y":{"field":"top","type":"quantitative","axis":null},"text":{"field":"label"}}}
]}
]}
]
}
